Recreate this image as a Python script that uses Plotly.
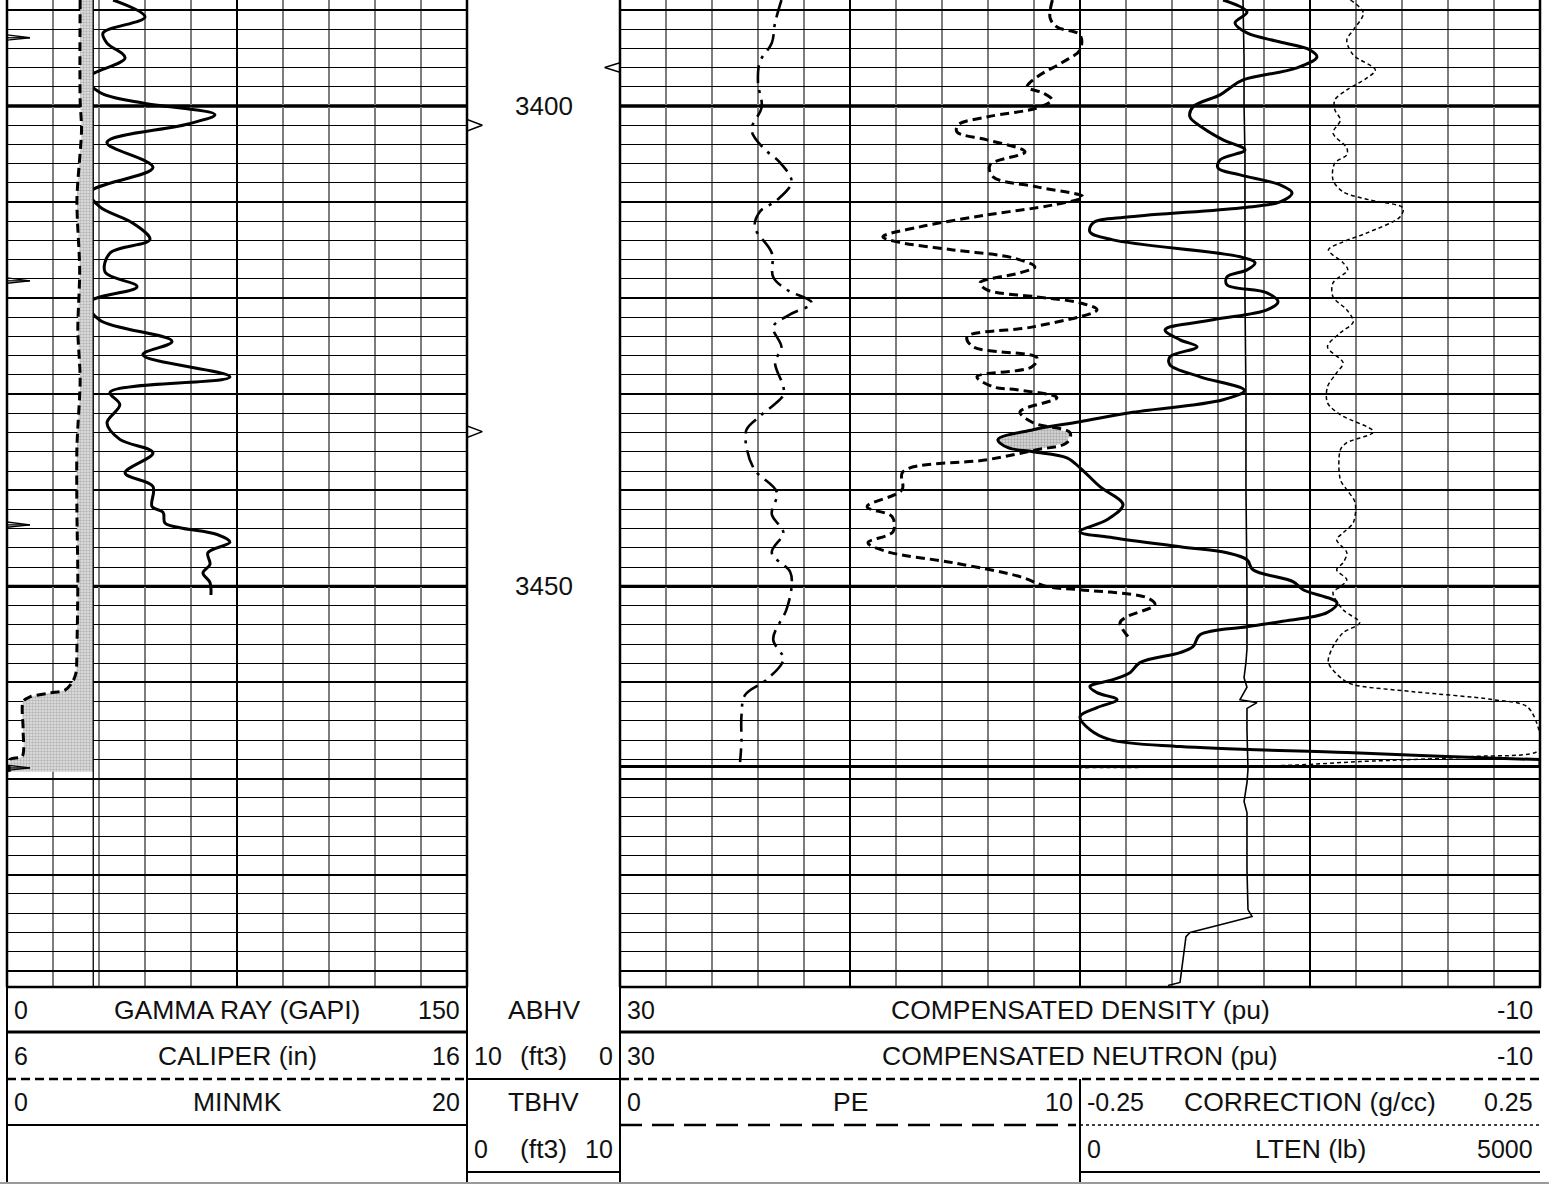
import numpy as np
import plotly.graph_objects as go

W, H = 1549, 1185

# ------------------------------------------------------------------ data
TOP_DEPTH = 3388.97
BOTTOM_DEPTH = 3491.7
DEPTH_LABELS = [3400, 3450]

GR_DEPTH = [3388.97, 3390.74, 3392.41, 3393.45, 3395.0, 3397.1, 3398.6, 3399.7, 3400.9, 3401.9,
            3403.8, 3406.4, 3409.0, 3410.5, 3412.2, 3413.9, 3415.3, 3417.3, 3418.8, 3420.5,
            3422.3, 3424.5, 3425.9, 3428.2, 3429.8, 3431.1, 3433.0, 3434.7, 3436.1, 3438.2,
            3439.6, 3441.7, 3442.3, 3443.4, 3443.9, 3444.6, 3445.4, 3446.5, 3447.7, 3448.6,
            3449.6, 3450.9]
GR_VALUE = [34.6, 45.0, 31.3, 32.6, 38.5, 26.4, 30.3, 44.3, 67.8, 58.7,
            32.6, 47.6, 27.1, 30.3, 41.1, 46.6, 33.6, 32.0, 42.4, 26.4,
            30.3, 53.8, 44.3, 72.7, 33.6, 36.8, 32.6, 36.8, 47.6, 38.5,
            47.6, 47.3, 50.9, 51.5, 56.4, 68.5, 72.7, 65.5, 66.2, 63.9,
            66.2, 66.5]

CALI_DEPTH = [3388.97, 3399.4, 3402.5, 3409.8, 3417.1, 3423.3, 3428.5, 3435.5, 3442.3, 3449.3,
              3456.3, 3459.0, 3459.9, 3460.8, 3461.1, 3461.5, 3462.0, 3464.9, 3467.7, 3468.0,
              3469.3]
CALI_VALUE = [7.59, 7.59, 7.62, 7.52, 7.58, 7.54, 7.59, 7.52, 7.52, 7.54,
              7.52, 7.50, 7.43, 7.26, 6.93, 6.50, 6.35, 6.35, 6.33, 6.07,
              6.05]
BIT_SIZE = 7.875

MINMK_DEPTH = [3392.9, 3418.2, 3443.6, 3468.9]
MINMK_PEAK = 1.0

ABHV_TICK_DEPTH = [3396.0]
TBHV_TICK_DEPTH = [3402.0, 3433.9]
TICK_SIZE = 1.0

DEN_DEPTH = [3388.97, 3390.22, 3391.36, 3392.40, 3393.34, 3394.17, 3394.90, 3396.04, 3397.29, 3398.12,
             3398.85, 3400.10, 3401.14, 3402.29, 3403.53, 3404.57, 3405.61, 3406.45, 3407.17, 3408.22,
             3409.05, 3409.98, 3410.61, 3411.54, 3412.17, 3413.10, 3413.94, 3415.70, 3416.33, 3417.06,
             3417.79, 3418.62, 3419.45, 3420.39, 3421.22, 3422.26, 3423.30, 3424.34, 3425.07, 3426.11,
             3426.94, 3428.19, 3429.60, 3430.58, 3431.93, 3432.87, 3433.70, 3434.74, 3435.57, 3435.99,
             3436.62, 3437.66, 3439.63, 3441.50, 3443.07, 3444.31, 3444.94, 3445.87, 3446.50, 3447.23,
             3448.27, 3449.51, 3450.35, 3451.70, 3452.74, 3453.68, 3454.20, 3455.03, 3456.28, 3456.90,
             3457.94, 3458.98, 3459.71, 3460.44, 3461.06, 3461.79, 3462.62, 3463.56, 3464.91, 3465.95,
             3466.68, 3467.30, 3467.72, 3468.03]
DEN_VALUE = [3.78, 2.74, 3.26, 2.74, 1.30, 0.00, -0.30, 0.57, 2.91, 3.48,
             3.91, 5.09, 5.22, 4.65, 3.78, 2.83, 3.91, 4.00, 3.04, 1.30,
             0.78, 1.30, 3.04, 7.83, 9.43, 9.57, 8.57, 3.04, 2.39, 2.74,
             3.61, 3.61, 1.87, 1.39, 1.87, 4.22, 6.30, 5.65, 4.91, 6.09,
             6.09, 4.78, 2.85, 3.78, 7.83, 10.00, 12.04, 13.57, 13.13, 12.04,
             10.57, 10.00, 9.13, 8.13, 8.83, 10.00, 8.57, 5.65, 3.61, 2.74,
             2.48, 0.74, 0.30, -1.17, -0.74, 1.30, 2.74, 4.78, 5.09, 5.65,
             7.39, 7.83, 8.57, 9.57, 9.26, 8.39, 9.26, 10.00, 9.57, 8.70,
             5.65, -1.61, -5.96, -10.00]
DEN_END_DEPTH = 3468.76

NEU_DEPTH = [3388.97, 3390.84, 3391.78, 3392.61, 3394.17, 3395.42, 3396.98, 3398.02, 3398.64, 3399.37,
             3400.20, 3401.14, 3401.97, 3402.70, 3403.53, 3404.78, 3406.13, 3407.38, 3408.42, 3409.46,
             3410.30, 3411.34, 3412.58, 3413.62, 3414.14, 3414.98, 3415.81, 3416.75, 3417.37, 3418.41,
             3419.14, 3419.87, 3420.49, 3421.22, 3422.99, 3424.03, 3425.07, 3426.21, 3427.15, 3428.19,
             3429.23, 3429.54, 3430.37, 3431.83, 3432.97, 3434.01, 3435.05, 3435.78, 3436.82, 3438.07,
             3439.94, 3441.71, 3442.75, 3444.31, 3445.46, 3446.39, 3447.54, 3448.99, 3450.03, 3450.35,
             3451.18, 3451.91, 3453.16, 3453.78, 3455.24]
NEU_VALUE = [11.20, 11.30, 11.00, 10.00, 10.00, 10.74, 11.87, 12.30, 11.61, 11.22,
             11.87, 14.04, 15.30, 15.35, 14.04, 12.39, 13.91, 13.78, 11.87, 9.87,
             11.17, 14.04, 16.96, 18.57, 17.96, 15.52, 12.91, 11.96, 12.61, 14.35,
             14.04, 11.87, 10.00, 9.26, 12.04, 14.91, 14.65, 11.87, 12.09, 14.48,
             13.78, 12.74, 11.00, 12.61, 12.04, 10.43, 10.57, 11.87, 14.04, 17.70,
             17.74, 19.26, 18.17, 18.13, 19.22, 18.39, 15.52, 12.61, 11.43, 10.00,
             7.09, 6.74, 7.96, 8.26, 7.91]

PE_DEPTH = [3388.97, 3391.36, 3393.44, 3395.42, 3397.6, 3400.1, 3402.5, 3404.4, 3405.9, 3407.9,
            3409.8, 3411.0, 3412.6, 3415.3, 3417.8, 3419.1, 3420.5, 3421.7, 3423.0, 3425.1,
            3426.7, 3429.2, 3430.1, 3432.3, 3433.7, 3435.5, 3437.9, 3440.2, 3442.5, 3444.4,
            3446.5, 3448.5, 3450.0, 3452.4, 3455.5, 3457.6, 3459.7, 3461.3, 3463.5, 3466.2,
            3468.3]
PE_VALUE = [3.51, 3.37, 3.30, 3.04, 3.00, 3.08, 2.86, 3.12, 3.48, 3.73,
            3.41, 3.04, 2.93, 3.30, 3.33, 3.62, 4.17, 3.70, 3.33, 3.51,
            3.37, 3.55, 3.55, 3.04, 2.75, 2.75, 2.93, 3.41, 3.30, 3.55,
            3.30, 3.70, 3.73, 3.62, 3.33, 3.55, 3.19, 2.72, 2.64, 2.64,
            2.61]

CORR_DEPTH = [3388.97, 3390.32, 3392.09, 3393.13, 3394.69, 3396.25, 3397.08, 3398.33, 3399.37, 3400.41,
              3401.45, 3402.81, 3404.37, 3405.09, 3405.93, 3407.70, 3408.94, 3409.78, 3410.61, 3411.54,
              3413.21, 3414.14, 3414.98, 3416.33, 3417.06, 3418.41, 3419.87, 3421.22, 3422.47, 3423.61,
              3425.07, 3426.73, 3427.77, 3429.23, 3430.89, 3432.14, 3433.91, 3435.05, 3435.78, 3438.90,
              3439.94, 3441.27, 3443.38, 3444.42, 3445.15, 3446.50, 3447.54, 3448.27, 3449.31, 3450.03,
              3450.66, 3452.43, 3453.78, 3454.82, 3456.28, 3457.94, 3459.71, 3460.23, 3460.96, 3461.79,
              3462.52, 3464.70, 3466.99, 3467.72, 3468.24, 3468.66, 3468.87]
CORR_VALUE = [0.044, 0.058, 0.047, 0.040, 0.047, 0.071, 0.062, 0.040, 0.027, 0.027,
              0.033, 0.025, 0.040, 0.040, 0.027, 0.025, 0.036, 0.065, 0.101, 0.098,
              0.062, 0.036, 0.020, 0.036, 0.041, 0.025, 0.025, 0.040, 0.047, 0.033,
              0.019, 0.036, 0.029, 0.019, 0.019, 0.033, 0.069, 0.040, 0.033, 0.033,
              0.040, 0.049, 0.047, 0.036, 0.029, 0.040, 0.036, 0.029, 0.040, 0.033,
              0.025, 0.036, 0.054, 0.036, 0.025, 0.020, 0.036, 0.047, 0.112, 0.199,
              0.236, 0.248, 0.250, 0.177, 0.054, -0.033, -0.250]

LTEN_DEPTH = [3388.97, 3395.0, 3400.0, 3405.0, 3410.0, 3420.0, 3430.0, 3440.0, 3450.0, 3456.5,
              3457.9, 3459.5, 3460.5, 3461.8, 3462.1, 3462.7, 3465.0, 3469.07, 3470.42, 3472.40,
              3473.54, 3479.48, 3483.64, 3484.37, 3484.89, 3486.03, 3486.45, 3488.84, 3489.88, 3491.23,
              3491.55]
LTEN_VALUE = [1772, 1783, 1783, 1793, 1793, 1793, 1804, 1804, 1815, 1815,
              1804, 1783, 1815, 1739, 1924, 1815, 1815, 1826, 1815, 1783,
              1815, 1815, 1826, 1870, 1663, 1196, 1152, 1120, 1109, 1087,
              957]

# axis scales
GR_RANGE = [0, 150]
CALI_RANGE = [6, 16]
MINMK_RANGE = [0, 20]
POR_RANGE = [30, -10]
PE_RANGE = [0, 10]
CORR_RANGE = [-0.25, 0.25]
LTEN_RANGE = [0, 5000]
VOL_RANGE = [0, 10]

# header texts
HDR_TRACK1 = [("0", "GAMMA RAY (GAPI)", "150"),
              ("6", "CALIPER (in)", "16"),
              ("0", "MINMK", "20")]
HDR_DEPTH = [(None, "ABHV", None), ("10", "(ft3)", "0"),
             (None, "TBHV", None), ("0", "(ft3)", "10")]
HDR_TRACK2 = [("30", "COMPENSATED DENSITY (pu)", "-10"),
              ("30", "COMPENSATED NEUTRON (pu)", "-10")]
HDR_PE = ("0", "PE", "10")
HDR_CORR = ("-0.25", "CORRECTION (g/cc)", "0.25")
HDR_LTEN = ("0", "LTEN (lb)", "5000")

# ------------------------------------------------------------------ layout geometry (pixels)
T1 = (7, 467)
TD = (467, 620)
T2 = (620, 1540)
T2A = (620, 1080)
T2B = (1080, 1540)
GRID_BOTTOM = 987
ROWS = [1010, 1056, 1102, 1149]
FONT = "Liberation Sans, Arial, sans-serif"
FS_TITLE = 26.5
FS_NUM = 25


def px(x):
    return x / W


def py(y):
    return 1 - y / H


YDOM = [py(GRID_BOTTOM), 1.0]
YRANGE = [BOTTOM_DEPTH, TOP_DEPTH]

fig = go.Figure()

# ---------------- track 1
fig.add_trace(go.Scatter(x=[BIT_SIZE] * len(CALI_DEPTH), y=CALI_DEPTH, xaxis="x2", yaxis="y",
                         mode="lines", line=dict(width=0, color="rgba(0,0,0,0)"),
                         hoverinfo="skip", showlegend=False))
fig.add_trace(go.Scatter(x=CALI_VALUE, y=CALI_DEPTH, xaxis="x2", yaxis="y", mode="lines",
                         fill="tonextx",
                         fillpattern=dict(shape=".", bgcolor="#e2e2e2", fgcolor="#8a8a8a",
                                          size=3, solidity=0.5),
                         line=dict(color="black", width=3, dash="9px,5px", shape="spline", smoothing=0.8),
                         name="CALIPER", showlegend=False))
fig.add_trace(go.Scatter(x=[BIT_SIZE, BIT_SIZE], y=[TOP_DEPTH, BOTTOM_DEPTH], xaxis="x2", yaxis="y",
                         mode="lines", line=dict(color="black", width=1.3),
                         hoverinfo="skip", showlegend=False))

mx, my = [], []
for d in MINMK_DEPTH:
    mx += [0, MINMK_PEAK, 0, None, 0, MINMK_PEAK, None]
    my += [d - 0.3, d, d + 0.25, None, d, d, None]
fig.add_trace(go.Scatter(x=mx, y=my, xaxis="x3", yaxis="y", mode="lines",
                         line=dict(color="black", width=1.3), name="MINMK", showlegend=False))

fig.add_trace(go.Scatter(x=GR_VALUE, y=GR_DEPTH, xaxis="x", yaxis="y", mode="lines",
                         line=dict(color="black", width=3, shape="spline", smoothing=1.0),
                         name="GAMMA RAY", showlegend=False))

# ---------------- depth track ticks
tx, ty = [], []
for d in TBHV_TICK_DEPTH:
    tx += [0, TICK_SIZE, 0, None]
    ty += [d - 0.6, d, d + 0.6, None]
fig.add_trace(go.Scatter(x=tx, y=ty, xaxis="x4", yaxis="y2", mode="lines",
                         line=dict(color="black", width=1.5), showlegend=False))
ax_, ay_ = [], []
for d in ABHV_TICK_DEPTH:
    ax_ += [0, TICK_SIZE, 0, None]
    ay_ += [d - 0.5, d, d + 0.5, None]
fig.add_trace(go.Scatter(x=ax_, y=ay_, xaxis="x10", yaxis="y2", mode="lines",
                         line=dict(color="black", width=1.5), showlegend=False))

# ---------------- track 2 : density / neutron crossover
lo = max(DEN_DEPTH[0], NEU_DEPTH[0])
hi = min(DEN_DEPTH[-1], NEU_DEPTH[-1])
g = np.linspace(lo, hi, 6000)
dv = np.interp(g, DEN_DEPTH, DEN_VALUE)
nv = np.interp(g, NEU_DEPTH, NEU_VALUE)
mask = dv > nv
segs = []
start = None
for i, m in enumerate(mask):
    if m and start is None:
        start = i
    if (not m or i == len(mask) - 1) and start is not None:
        segs.append((start, i))
        start = None
for s, e in segs:
    if e - s < 3:
        continue
    xs = list(dv[s:e]) + list(nv[s:e][::-1])
    ys = list(g[s:e]) + list(g[s:e][::-1])
    fig.add_trace(go.Scatter(x=xs, y=ys, xaxis="x5", yaxis="y3", mode="lines", fill="toself",
                             fillpattern=dict(shape=".", bgcolor="#dcdcdc", fgcolor="#7a7a7a",
                                              size=3, solidity=0.5),
                             line=dict(width=0), hoverinfo="skip", showlegend=False))

fig.add_trace(go.Scatter(x=NEU_VALUE, y=NEU_DEPTH, xaxis="x5", yaxis="y3", mode="lines",
                         line=dict(color="black", width=3, dash="9px,5px", shape="spline", smoothing=1.0),
                         name="NEUTRON", showlegend=False))
fig.add_trace(go.Scatter(x=DEN_VALUE, y=DEN_DEPTH, xaxis="x5", yaxis="y3", mode="lines",
                         line=dict(color="black", width=3, shape="spline", smoothing=1.0),
                         name="DENSITY", showlegend=False))
fig.add_trace(go.Scatter(x=[DEN_VALUE[-1], DEN_VALUE[-1], POR_RANGE[0]],
                         y=[DEN_DEPTH[-1], DEN_END_DEPTH, DEN_END_DEPTH],
                         xaxis="x5", yaxis="y3", mode="lines",
                         line=dict(color="black", width=3), showlegend=False))

fig.add_trace(go.Scatter(x=PE_VALUE, y=PE_DEPTH, xaxis="x7", yaxis="y4", mode="lines",
                         line=dict(color="black", width=2.6, dash="18px,7px,3px,7px",
                                   shape="spline", smoothing=1.0),
                         name="PE", showlegend=False))
fig.add_trace(go.Scatter(x=CORR_VALUE, y=CORR_DEPTH, xaxis="x8", yaxis="y5", mode="lines",
                         line=dict(color="black", width=1.5, dash="4px,3px", shape="spline", smoothing=0.9),
                         name="CORRECTION", showlegend=False))
fig.add_trace(go.Scatter(x=LTEN_VALUE, y=LTEN_DEPTH, xaxis="x9", yaxis="y5", mode="lines",
                         line=dict(color="black", width=1.6),
                         name="LTEN", showlegend=False))

# ------------------------------------------------------------------ axes
hidden = dict(visible=False, fixedrange=True)
grid_y = dict(domain=YDOM, range=YRANGE, showticklabels=False, ticks="", zeroline=False,
              showgrid=True, tick0=3400, dtick=10, gridcolor="black", gridwidth=2,
              minor=dict(tick0=3400, dtick=2, showgrid=True, gridcolor="black", gridwidth=1),
              showline=False, fixedrange=True)
plain_y = dict(domain=YDOM, range=YRANGE, visible=False, fixedrange=True)

fig.update_layout(
    width=W, height=H, margin=dict(l=0, r=0, t=0, b=0),
    paper_bgcolor="white", plot_bgcolor="rgba(0,0,0,0)", showlegend=False,
    xaxis=dict(domain=[px(T1[0]), px(T1[1])], range=GR_RANGE, anchor="y",
               showticklabels=False, ticks="", zeroline=False, showline=False,
               showgrid=True, tick0=0, dtick=75, gridcolor="black", gridwidth=2,
               minor=dict(tick0=0, dtick=15, showgrid=True, gridcolor="#7d7d7d", gridwidth=1.6),
               fixedrange=True),
    xaxis2=dict(overlaying="x", range=CALI_RANGE, anchor="y", **hidden),
    xaxis3=dict(overlaying="x", range=MINMK_RANGE, anchor="y", **hidden),
    xaxis4=dict(domain=[px(TD[0]), px(TD[1])], range=VOL_RANGE, anchor="y2", **hidden),
    xaxis10=dict(overlaying="x4", range=VOL_RANGE[::-1], anchor="y2", **hidden),
    xaxis5=dict(domain=[px(T2[0]), px(T2[1])], range=POR_RANGE, anchor="y3",
                showticklabels=False, ticks="", zeroline=False, showline=False,
                showgrid=True, tick0=0, dtick=10, gridcolor="black", gridwidth=2,
                minor=dict(tick0=0, dtick=2, showgrid=True, gridcolor="#7d7d7d", gridwidth=1.6),
                fixedrange=True),
    xaxis7=dict(domain=[px(T2A[0]), px(T2A[1])], range=PE_RANGE, anchor="y4", **hidden),
    xaxis8=dict(domain=[px(T2B[0]), px(T2B[1])], range=CORR_RANGE, anchor="y5", **hidden),
    xaxis9=dict(overlaying="x8", range=LTEN_RANGE, anchor="y5", **hidden),
    yaxis=dict(anchor="x", **grid_y),
    yaxis2=dict(anchor="x4", **plain_y),
    yaxis3=dict(anchor="x5", **grid_y),
    yaxis4=dict(anchor="x7", **plain_y),
    yaxis5=dict(anchor="x8", **plain_y),
)

shapes = []


def hline(y, x0, x1, width, dash="solid", color="black"):
    shapes.append(dict(type="line", xref="paper", yref="paper", x0=px(x0), x1=px(x1),
                       y0=py(y), y1=py(y), line=dict(color=color, width=width, dash=dash),
                       layer="above"))


def vline(x, y0, y1, width, color="black"):
    shapes.append(dict(type="line", xref="paper", yref="paper", x0=px(x), x1=px(x),
                       y0=py(y0), y1=py(y1), line=dict(color=color, width=width), layer="above"))


# heavy 50 ft lines (depth-referenced)
for d in DEPTH_LABELS:
    for (a, b) in (T1, T2):
        shapes.append(dict(type="line", xref="paper", yref="y", x0=px(a), x1=px(b), y0=d, y1=d,
                           line=dict(color="black", width=3.4), layer="below"))

# track borders
for x in (T1[0], T1[1], T2[0], T2[1]):
    vline(x, 0, GRID_BOTTOM, 2.5)
hline(GRID_BOTTOM, T1[0] - 1, T1[1] + 1, 2.5)
hline(GRID_BOTTOM, T2[0] - 1, T2[1] + 1, 2.5)

# header frame
vline(T1[0], GRID_BOTTOM, 1182, 2)
vline(T1[1], GRID_BOTTOM, 1182, 2)
vline(T2[0], GRID_BOTTOM, 1182, 2)
vline(T2B[0], 1079, 1182, 2)
hline(1032, T1[0], T1[1], 3)
hline(1032, T2[0], T2[1], 3)
hline(1079, T1[0], T1[1], 2.5, dash="9px,5px")
hline(1079, TD[0], TD[1], 2)
hline(1079, T2[0], T2[1], 2.5, dash="9px,5px")
hline(1125, T1[0], T1[1], 2)
hline(1125, T2A[0], T2A[1] - 4, 2.5, dash="22px,10px")
hline(1125, T2B[0], T2B[1], 1.5, dash="3px,3px")
hline(1172, TD[0], TD[1], 2)
hline(1172, T2B[0], T2B[1], 2)
hline(1183, 0, W, 2, color="#9a9a9a")

fig.update_layout(shapes=shapes)

ann = []


def text(x, y, s, anchor, size):
    ann.append(dict(xref="paper", yref="paper", x=px(x), y=py(y), text=s, showarrow=False,
                    xanchor=anchor, yanchor="middle",
                    font=dict(family=FONT, size=size, color="#111111")))


def row(x0, x1, y, triple):
    left, mid, right = triple
    if left is not None:
        text(x0 + 5, y, left, "left", FS_NUM)
    if mid is not None:
        text((x0 + x1) / 2, y, mid, "center", FS_TITLE)
    if right is not None:
        text(x1 - 5, y, right, "right", FS_NUM)


for i, t in enumerate(HDR_TRACK1):
    row(T1[0], T1[1], ROWS[i], t)
for i, t in enumerate(HDR_DEPTH):
    row(TD[0], TD[1], ROWS[i], t)
for i, t in enumerate(HDR_TRACK2):
    row(T2[0], T2[1], ROWS[i], t)
row(T2A[0], T2A[1], ROWS[2], HDR_PE)
row(T2B[0], T2B[1], ROWS[2], HDR_CORR)
row(T2B[0], T2B[1], ROWS[3], HDR_LTEN)

for d in DEPTH_LABELS:
    ann.append(dict(xref="x4 domain", yref="y2", x=0.5, y=d, text=str(d), showarrow=False,
                    xanchor="center", yanchor="middle",
                    font=dict(family=FONT, size=FS_NUM + 1, color="#111111")))

fig.update_layout(annotations=ann)

fig.write_html("out.html",
               config={"displayModeBar": False, "staticPlot": True},
               post_script="document.body.style.margin='0px';document.body.style.overflow='hidden';")
